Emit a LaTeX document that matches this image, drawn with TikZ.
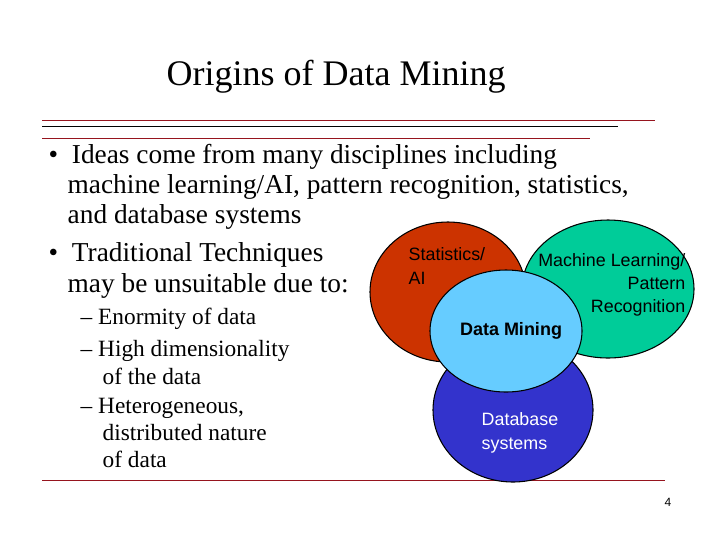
\documentclass[tikz,border=0pt]{standalone}
\usepackage{fontspec}
\setmainfont{Liberation Serif}
\setsansfont{Liberation Sans}
\definecolor{rulered}{RGB}{150,20,30}
\definecolor{statred}{RGB}{204,51,0}
\definecolor{mlgreen}{RGB}{0,204,153}
\definecolor{dbblue}{RGB}{51,51,204}
\definecolor{dmblue}{RGB}{102,204,255}
\tikzset{
  field/.style={draw=black, thick},
  circtext/.style={font=\sffamily\fontsize{13.4}{17.5}\selectfont},
  bodytext/.style={anchor=west, font=\fontsize{20.5}{22}\selectfont},
  subtext/.style={anchor=west, font=\fontsize{17.5}{19}\selectfont, align=left}
}
\begin{document}
\begin{tikzpicture}[x=0.75pt, y=-0.75pt]
  \useasboundingbox[fill=white] (0,0) rectangle (720,540);
  \node[anchor=west, font=\fontsize{27}{30}\selectfont] (title) at (162,77) {Origins of Data Mining};
  \draw[rulered] (42,120) -- (655,120);
  \draw[black] (42,126) -- (618,126);
  \draw[rulered] (42,138) -- (590,138);
  \draw[rulered] (42,480) -- (665,480);

  \node[bodytext] (b1) at (44,157) {\textbullet\ \ Ideas come from many disciplines including};
  \node[bodytext] (b1a) at (63,187) {machine learning/AI, pattern recognition, statistics,};
  \node[bodytext] (b1b) at (63,217) {and database systems};
  \node[bodytext] (b2) at (44,255) {\textbullet\ \ Traditional Techniques};
  \node[bodytext] (b2a) at (63,286) {may be unsuitable due to:};
  \node[subtext] (s1) at (76,319) {-- Enormity of data};
  \node[subtext] (s2) at (76,351) {-- High dimensionality};
  \node[subtext] (s2a) at (98,376) {of the data};
  \node[subtext] (s3) at (76,408) {-- Heterogeneous,};
  \node[subtext] (s3a) at (98,433) {distributed nature};
  \node[subtext] (s3b) at (98,459) {of data};

  \fill[statred, field] (448,292) ellipse[x radius=78, y radius=70];
  \fill[mlgreen, field] (608,289) ellipse[x radius=86, y radius=69];
  \fill[dbblue, field] (513,410) ellipse[x radius=80, y radius=72];
  \fill[dmblue, field] (506,331) ellipse[x radius=76, y radius=61];

  \node[circtext, anchor=west, align=left] (stat) at (404,266) {Statistics/\\AI};
  \node[circtext, align=right, anchor=east] (ml) at (690,285) {Machine Learning/\\Pattern\\Recognition};
  \node[circtext, font=\sffamily\bfseries\fontsize{13.5}{15}\selectfont] (dm) at (511,331) {Data Mining};
  \node[circtext, anchor=west, align=left, text=white] (db) at (477,433) {Database\\systems};
  \node[font=\sffamily\fontsize{9}{11}\selectfont] (page) at (668,502) {4};
\end{tikzpicture}
\end{document}
